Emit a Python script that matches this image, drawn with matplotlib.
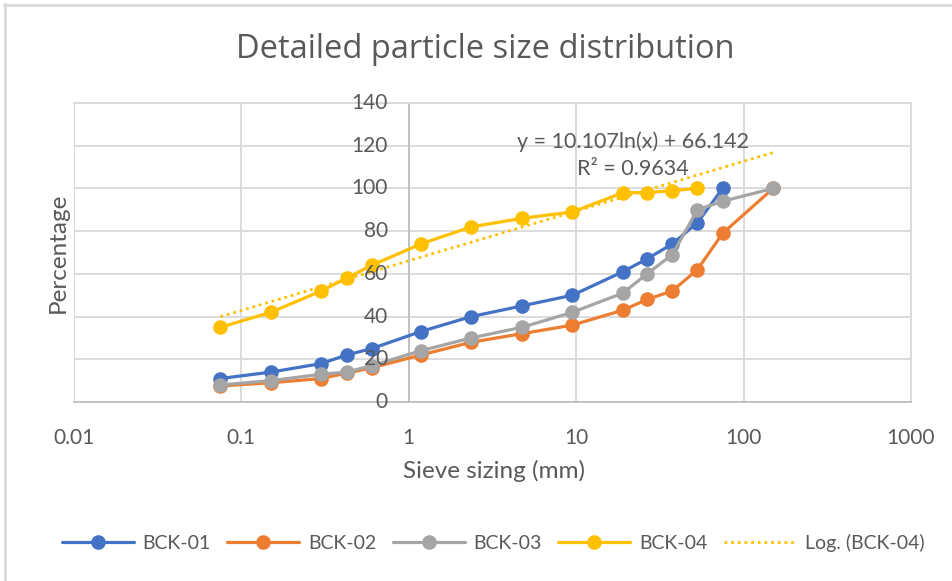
import numpy as np
import matplotlib
matplotlib.use("Agg")
import matplotlib.pyplot as plt
from matplotlib.lines import Line2D
from matplotlib.transforms import offset_copy
from matplotlib.ticker import FixedLocator, FuncFormatter, NullLocator, NullFormatter

# Sieve openings (mm)
sieve_mm = [0.075, 0.15, 0.3, 0.425, 0.6, 1.18, 2.36, 4.75, 9.5, 19, 26.5, 37.5, 53, 75, 150]

# Percentage passing for each sample
bck01 = [11, 14, 18, 22, 25, 33, 40, 45, 50, 61, 67, 74, 84, 100]
bck02 = [7.5, 9, 11, 13.5, 16, 22, 28, 32, 36, 43, 48, 52, 62, 79, 100]
bck03 = [8, 10, 13, 14, 17, 24, 30, 35, 42, 51, 60, 69, 90, 94, 100]
bck04 = [35, 42, 52, 58, 64, 74, 82, 86, 89, 98, 98, 99, 100]

# Logarithmic trend for BCK-04: y = a*ln(x) + b
trend_a = 10.107
trend_b = 66.142
trend_r2 = 0.9634
trend_range = [0.075, 150]

series_names = ["BCK-01", "BCK-02", "BCK-03", "BCK-04"]
colors = ["#4472C4", "#ED7D31", "#A5A5A5", "#FFC000"]

x_ticks = [0.01, 0.1, 1, 10, 100, 1000]
y_ticks = [0, 20, 40, 60, 80, 100, 120, 140]
y_cross = 1  # value axis crosses the category axis at x = 1

plt.rcParams["font.family"] = ["Lato", "DejaVu Sans"]
text_color = "#595959"
W, H = 953, 581


def fx(px):
    return px / W


def fy(py):
    return 1 - py / H


fig = plt.figure(figsize=(W / 100, H / 100), dpi=100)
ax = fig.add_axes([fx(74), fy(402), (911 - 74) / W, (402 - 103) / H])

datasets = [bck01, bck02, bck03, bck04]
handles = []
for name, vals, col in zip(series_names, datasets, colors):
    xs = sieve_mm[:len(vals)]
    h, = ax.plot(xs, vals, color=col, lw=2.3, marker="o", ms=10.5,
                 markeredgewidth=0, label=name, zorder=3, solid_capstyle="round")
    handles.append(h)

xt = np.logspace(np.log10(trend_range[0]), np.log10(trend_range[1]), 200)
yt = trend_a * np.log(xt) + trend_b
ht, = ax.plot(xt, yt, color=colors[3], lw=2.0, ls=(0, (1, 1.4)), zorder=2,
              label="Log. (BCK-04)")
handles.append(ht)

ax.set_xscale("log")
ax.set_xlim(x_ticks[0], x_ticks[-1])
ax.set_ylim(y_ticks[0], y_ticks[-1])
ax.xaxis.set_major_locator(FixedLocator(x_ticks))
ax.xaxis.set_minor_locator(NullLocator())
ax.xaxis.set_major_formatter(FuncFormatter(lambda v, p: f"{v:g}"))
ax.yaxis.set_major_locator(FixedLocator(y_ticks))
ax.yaxis.set_major_formatter(NullFormatter())

ax.grid(True, which="major", color="#D9D9D9", lw=1.3, zorder=0)
ax.set_axisbelow(True)

for s in ["top", "right"]:
    ax.spines[s].set_color("#D9D9D9")
    ax.spines[s].set_linewidth(1.3)
ax.spines["left"].set_position(("data", y_cross))
ax.spines["left"].set_color("#BFBFBF")
ax.spines["left"].set_linewidth(1.3)
ax.spines["bottom"].set_color("#BFBFBF")
ax.spines["bottom"].set_linewidth(1.3)
ax.tick_params(axis="both", length=0, labelsize=15, labelcolor=text_color)
ax.tick_params(axis="x", pad=19)

# Value-axis labels sit beside the crossing axis, drawn above the series
label_tr = offset_copy(ax.transData, fig=fig, x=-15, y=0, units="points")
for yv in y_ticks:
    ax.text(y_cross, yv, f"{yv}", transform=label_tr, ha="right", va="center",
            fontsize=15, color=text_color, zorder=6, clip_on=False)

# Left gridline edge of the plot area
ax.axvline(x_ticks[0], color="#D9D9D9", lw=1.3, zorder=0)

fig.text(fx(494), fy(471), "Sieve sizing (mm)", fontsize=17.5, color=text_color,
         ha="center", va="center")
fig.text(fx(58), fy(253), "Percentage", rotation=90, fontsize=17.5,
         color=text_color, ha="center", va="center")

fig.text(fx(485), fy(50), "Detailed particle size distribution",
         fontsize=23.5, color=text_color, ha="center", va="center",
         family=["Open Sans", "DejaVu Sans"])

fig.text(fx(633), fy(155), f"y = {trend_a}ln(x) + {trend_b}\nR² = {trend_r2}",
         fontsize=15.5, color=text_color, ha="center", va="center",
         linespacing=1.45)

fig.legend(handles=handles, loc="center", bbox_to_anchor=(fx(493), fy(543)),
           ncol=5, frameon=False, fontsize=14, labelcolor=text_color,
           handlelength=3.7, columnspacing=0.85, handletextpad=0.45)

# Chart area border (top and left edges)
fig.add_artist(Line2D([fx(4), 1], [fy(5), fy(5)], color="#D9D9D9", lw=2,
                      transform=fig.transFigure))
fig.add_artist(Line2D([fx(5), fx(5)], [0, fy(4)], color="#D9D9D9", lw=2,
                      transform=fig.transFigure))

fig.savefig("out.png", dpi=100, facecolor="white")
